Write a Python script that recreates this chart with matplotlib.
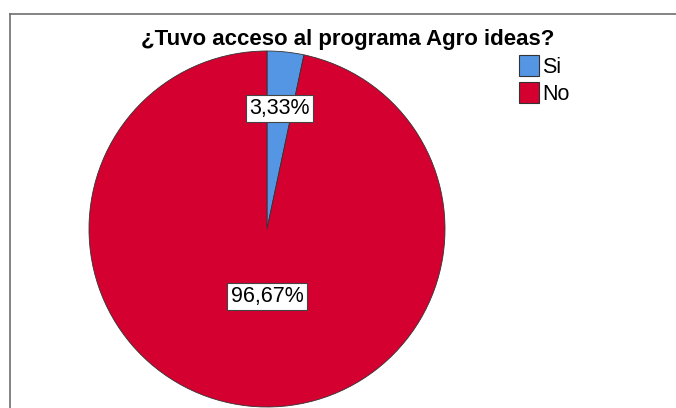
import matplotlib
matplotlib.use('Agg')
import matplotlib.pyplot as plt
import numpy as np
from matplotlib.patches import Patch
from matplotlib.lines import Line2D

plt.rcParams['font.family'] = ['Liberation Sans', 'DejaVu Sans']

categories = ['Si', 'No']
percentages = [3.33, 96.67]
colors = ['#5596e4', '#d40030']
label_dist = [0.68, 0.38]

W, H = 676, 408
fig = plt.figure(figsize=(W / 100, H / 100), dpi=100)

# outer frame (top and left edges only visible)
fig.add_artist(Line2D([10 / W, 1], [1 - 14 / H, 1 - 14 / H], color='#6e6e6e', lw=1.2))
fig.add_artist(Line2D([10 / W, 10 / W], [0, 1 - 14 / H], color='#6e6e6e', lw=1.2))

cx, cy, r = 267, 229, 178
ax = fig.add_axes([(cx - r) / W, (H - cy - r) / H, 2 * r / W, 2 * r / H])
wedges, _ = ax.pie(percentages, colors=colors, startangle=90, counterclock=False,
                   wedgeprops=dict(edgecolor='#333333', linewidth=0.6))
ax.set_xlim(-1, 1)
ax.set_ylim(-1, 1)
ax.set_aspect('equal')
ax.axis('off')

for w, pct, d in zip(wedges, percentages, label_dist):
    ang = np.deg2rad((w.theta1 + w.theta2) / 2)
    x = d * np.cos(ang)
    if pct > 50:
        x = 0  # big slice label sits straight under the centre
    ax.text(x, d * np.sin(ang), f'{pct:.2f}%'.replace('.', ','),
            ha='center', va='center', fontsize=15.5,
            bbox=dict(boxstyle='square,pad=0.15', facecolor='white', edgecolor='#444444', linewidth=0.8))

fig.text(348 / W, 1 - 40 / H, '¿Tuvo acceso al programa Agro ideas?',
         ha='center', va='center', fontsize=16, fontweight='bold')

handles = [Patch(facecolor=c, edgecolor='#333333', linewidth=0.8) for c in colors]
fig.legend(handles, categories, loc='upper left', bbox_to_anchor=(519 / W, 1 - 55 / H),
           frameon=False, fontsize=15.5, handlelength=0.95, handleheight=1.1,
           handletextpad=0.12, labelspacing=0.2, borderpad=0, borderaxespad=0)

fig.savefig('out.png', dpi=100)
